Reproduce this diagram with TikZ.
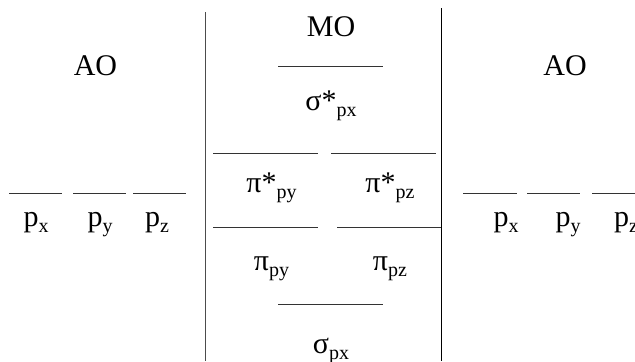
\documentclass[tikz,border=0pt]{standalone}
\usepackage{fontspec}
\setmainfont{Liberation Serif}
\newcommand{\lsub}[1]{\raisebox{-6bp}{\fontsize{20bp}{20bp}\selectfont #1}}
\begin{document}
\begin{tikzpicture}[x=1bp,y=-1bp,
  lvl/.style={line width=0.9bp, draw=black!80},
  sep/.style={line width=0.9bp, draw=black!70},
  lab/.style={anchor=base, inner sep=0pt, font=\fontsize{30bp}{30bp}\selectfont}]
\useasboundingbox (0,0) rectangle (635,361);
% separators
\coordinate (s1t) at (205,12); \coordinate (s1b) at (205,361);
\coordinate (s2t) at (441,8);  \coordinate (s2b) at (441,361);
\draw[sep] (s1t) -- (s1b);
\draw[sep, draw=black] (s2t) -- (s2b);
% left AO levels
\coordinate (la1) at (9,193);   \coordinate (la2) at (62,193);
\coordinate (lb1) at (73,193);  \coordinate (lb2) at (126,193);
\coordinate (lc1) at (133,193); \coordinate (lc2) at (186,193);
\draw[lvl] (la1) -- (la2); \draw[lvl] (lb1) -- (lb2); \draw[lvl] (lc1) -- (lc2);
% right AO levels
\coordinate (ra1) at (463,193); \coordinate (ra2) at (517,193);
\coordinate (rb1) at (527,193); \coordinate (rb2) at (580,193);
\coordinate (rc1) at (592,193); \coordinate (rc2) at (640,193);
\draw[lvl] (ra1) -- (ra2); \draw[lvl] (rb1) -- (rb2); \draw[lvl] (rc1) -- (rc2);
% MO levels
\coordinate (ss1) at (278,66);  \coordinate (ss2) at (383,66);
\coordinate (pa1) at (213,153); \coordinate (pa2) at (318,153);
\coordinate (pb1) at (331,153); \coordinate (pb2) at (436,153);
\coordinate (pc1) at (213,227); \coordinate (pc2) at (318,227);
\coordinate (pd1) at (337,227); \coordinate (pd2) at (441,227);
\coordinate (sb1) at (278,304); \coordinate (sb2) at (383,304);
\draw[lvl] (ss1) -- (ss2);
\draw[lvl] (pa1) -- (pa2); \draw[lvl] (pb1) -- (pb2);
\draw[lvl] (pc1) -- (pc2); \draw[lvl] (pd1) -- (pd2);
\draw[lvl] (sb1) -- (sb2);
% labels
\node[lab] (aoL) at (95.5,75) {AO};
\node[lab] (aoR) at (565,75) {AO};
\node[lab] (mo) at (331,36) {MO};
\node[lab] (sgs) at (331,110) {σ*\lsub{px}};
\node[lab] (pis1) at (271.5,192) {π*\lsub{py}};
\node[lab] (pis2) at (390,192) {π*\lsub{pz}};
\node[lab] (pi1) at (271.5,270) {π\lsub{py}};
\node[lab] (pi2) at (390,270) {π\lsub{pz}};
\node[lab] (sg) at (331,353) {σ\lsub{px}};
\node[lab] (lpx) at (36,226) {p\lsub{x}};
\node[lab] (lpy) at (100,226) {p\lsub{y}};
\node[lab] (lpz) at (157,226) {p\lsub{z}};
\node[lab] (rpx) at (506,226) {p\lsub{x}};
\node[lab] (rpy) at (568,226) {p\lsub{y}};
\node[lab] (rpz) at (626,226) {p\lsub{z}};
\end{tikzpicture}
\end{document}
